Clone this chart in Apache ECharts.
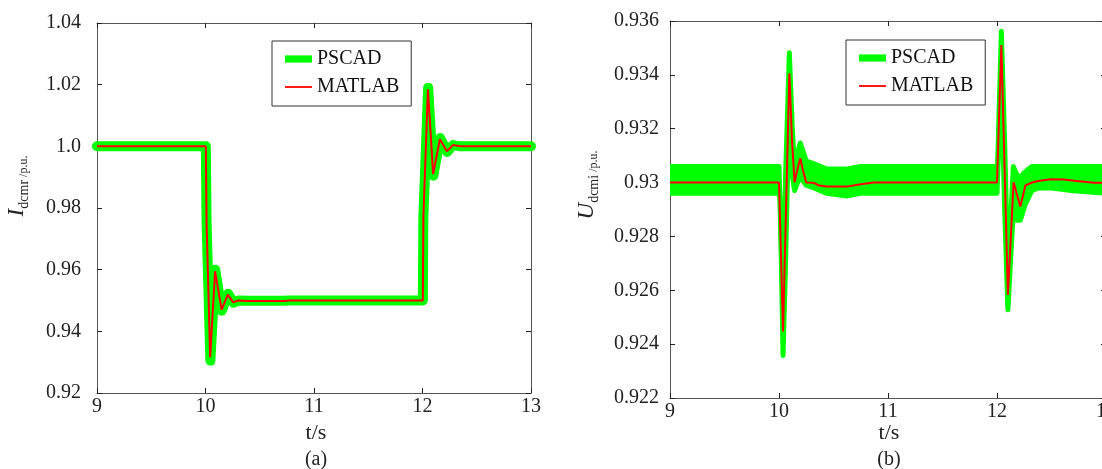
<!DOCTYPE html>
<html>
<head>
<meta charset="utf-8">
<script src="https://cdnjs.cloudflare.com/ajax/libs/echarts/6.0.0/echarts.min.js"></script>
<style>
  html, body { margin: 0; padding: 0; background: #fff; }
  #chart { width: 1102px; height: 469px; }
</style>
</head>
<body>
<div id="chart"></div>
<script>
// ── Valores ──────────────────────────────────────────────────────────────
const X_TICKS   = ['9', '10', '11', '12', '13'];
const Y_TICKS_A = ['0.92', '0.94', '0.96', '0.98', '1.0', '1.02', '1.04'];
const Y_TICKS_B = ['0.922', '0.924', '0.926', '0.928', '0.93', '0.932', '0.934', '0.936'];

// (a) corriente Idcmr
const tMatlabA = [9.0, 10.003, 10.010, 10.043, 10.088, 10.149, 10.205, 10.255, 10.30, 10.40, 10.74, 10.76,
                  12.003, 12.008, 12.05, 12.098, 12.16, 12.225, 12.28, 12.35, 13.0];
const iMatlabA = [1.0, 1.0, 0.975, 0.9315, 0.9595, 0.9470, 0.9519, 0.9494, 0.9500, 0.9498, 0.9498, 0.9500,
                  0.9500, 0.977, 1.0185, 0.9910, 1.0023, 0.9984, 1.0004, 1.0, 1.0];
const tPscadA  = [9.0, 10.003, 10.010, 10.045, 10.090, 10.150, 10.208, 10.258, 10.30, 10.40, 10.74, 10.76,
                  12.003, 12.008, 12.052, 12.10, 12.162, 12.228, 12.28, 12.35, 13.0];
const iPscadA  = [1.0, 1.0, 0.975, 0.9305, 0.9600, 0.9467, 0.9522, 0.9493, 0.9500, 0.9499, 0.9499, 0.9500,
                  0.9500, 0.977, 1.0190, 0.9905, 1.0027, 0.9982, 1.0004, 1.0, 1.0];

// (b) tensión Udcmi
const tMatlabB = [9.0, 10.0, 10.012, 10.037, 10.095, 10.12, 10.143, 10.17, 10.195, 10.22, 10.25, 10.32, 10.37,
                  10.44, 10.62, 10.75, 10.87, 12.0, 12.006, 12.04, 12.10, 12.152, 12.18, 12.214, 12.26, 12.32,
                  12.38, 12.49, 12.61, 12.73, 12.89, 13.0];
const uMatlabB = [0.93, 0.93, 0.93, 0.92447, 0.93406, 0.9315, 0.93001, 0.9305, 0.9309, 0.93045, 0.9300, 0.92999,
                  0.92989, 0.92985, 0.92985, 0.92994, 0.93, 0.93, 0.93, 0.93511, 0.92583, 0.93001, 0.9296,
                  0.92911, 0.92989, 0.9300, 0.93006, 0.93012, 0.93011, 0.93006, 0.92999, 0.930];
// PSCAD: envolvente del rizado (borde superior / inferior)
const tPscadB   = [9.0, 10.0, 10.012, 10.037, 10.06, 10.095, 10.12, 10.143, 10.17, 10.195, 10.25, 10.32, 10.44,
                   10.62, 10.75, 10.87, 12.0, 12.006, 12.04, 12.07, 12.10, 12.15, 12.18, 12.214, 12.26, 12.32,
                   12.38, 12.5, 12.7, 13.0];
const uPscadHiB = [0.9306, 0.9306, 0.9306, 0.9251, 0.9302, 0.93482, 0.9322, 0.9305, 0.9311, 0.93147, 0.9308, 0.9307,
                   0.9305, 0.9305, 0.9306, 0.9306, 0.9306, 0.9307, 0.93562, 0.9315, 0.9267, 0.9306, 0.9303,
                   0.9302, 0.9304, 0.9306, 0.9306, 0.9306, 0.9306, 0.9306];
const uPscadLoB = [0.9296, 0.9296, 0.9294, 0.92358, 0.9270, 0.9333, 0.9303, 0.9297, 0.9300, 0.9302, 0.9299, 0.9298,
                   0.9296, 0.9295, 0.9296, 0.9296, 0.9296, 0.9296, 0.9340, 0.9290, 0.92528, 0.9290, 0.9286,
                   0.9286, 0.9292, 0.9297, 0.9298, 0.9298, 0.9297, 0.9296];

// ── Estilo ────────────────────────────────────────────────────────────────
const SERIF = "'Liberation Serif', 'Times New Roman', serif";
const GREEN = '#00ff00';
const RED = '#ff0000';
const AXIS_COLOR = '#555';
const TEXT_COLOR = '#222';

const zip = (xs, ys) => xs.map((x, i) => [x, ys[i]]);
const tickLabel = (list) => (v) => list.find(s => Math.abs(Number(s) - v) < 1e-9) ?? '';

// tramos de la banda PSCAD (b): [t0, lo0, hi0, t1, lo1, hi1]
const bandB = tPscadB.slice(0, -1).map((t, i) => [
  t, uPscadLoB[i], uPscadHiB[i], tPscadB[i + 1], uPscadLoB[i + 1], uPscadHiB[i + 1],
]);

function xAxes(gridIndex) {
  const base = {
    type: 'value', gridIndex, min: 9, max: 13, interval: 1,
    axisLine: { show: true, onZero: false, lineStyle: { color: AXIS_COLOR, width: 1 } },
    axisTick: { show: true, inside: true, length: 5, lineStyle: { color: TEXT_COLOR } },
    splitLine: { show: false },
  };
  return [
    { ...base, position: 'bottom',
      axisLabel: { fontFamily: SERIF, fontSize: 20, color: TEXT_COLOR, margin: 4, formatter: tickLabel(X_TICKS) } },
    { ...base, position: 'top', axisLabel: { show: false } },
  ];
}

function yAxes(gridIndex, min, max, interval, labels, margin) {
  const base = {
    type: 'value', gridIndex, min, max, interval,
    axisLine: { show: true, onZero: false, lineStyle: { color: AXIS_COLOR, width: 1 } },
    axisTick: { show: true, inside: true, length: 5, lineStyle: { color: TEXT_COLOR } },
    splitLine: { show: false },
  };
  return [
    { ...base, position: 'left',
      axisLabel: { fontFamily: SERIF, fontSize: 20, color: TEXT_COLOR, margin, formatter: tickLabel(labels) } },
    { ...base, position: 'right', axisLabel: { show: false } },
  ];
}

function legendAt(left, top) {
  return {
    left, top, orient: 'vertical',
    padding: [8, 12, 9, 13], itemGap: 8, itemWidth: 27, itemHeight: 14,
    borderColor: '#333', borderWidth: 1, backgroundColor: '#fff',
    textStyle: { fontFamily: SERIF, fontSize: 20, color: '#111' },
    data: [
      { name: 'PSCAD', icon: 'path://M0,0H30V8H0Z', itemStyle: { color: GREEN } },
      { name: 'MATLAB', icon: 'path://M0,0H30V2H0Z', itemStyle: { color: RED } },
    ],
  };
}

function yName(x, y, main, sub) {
  return {
    type: 'text', x, y, rotation: Math.PI / 2,
    style: {
      text: `{m|${main}}{s|${sub}}{u| /p.u.}`,
      align: 'center', verticalAlign: 'middle',
      rich: {
        m: { fontFamily: SERIF, fontStyle: 'italic', fontSize: 23, fill: TEXT_COLOR, verticalAlign: 'bottom', padding: [0, 0, 3, 0] },
        s: { fontFamily: SERIF, fontSize: 14, fill: TEXT_COLOR, verticalAlign: 'bottom' },
        u: { fontFamily: SERIF, fontSize: 12, fill: TEXT_COLOR, verticalAlign: 'bottom', padding: [0, 0, 1, 0] },
      },
    },
  };
}

function plainText(x, y, text, size) {
  return {
    type: 'text', x, y,
    style: { text, fontFamily: SERIF, fontSize: size, fill: TEXT_COLOR, align: 'center', verticalAlign: 'middle' },
  };
}

const chart = echarts.init(document.getElementById('chart'), null, { renderer: 'canvas' });

chart.setOption({
  animation: false,
  backgroundColor: '#fff',
  grid: [
    { left: 97, top: 23, width: 434, height: 370, containLabel: false, outerBoundsMode: 'none' },
    { left: 670, top: 21, width: 436, height: 377, containLabel: false, outerBoundsMode: 'none' },
  ],
  xAxis: [...xAxes(0), ...xAxes(1)],
  yAxis: [
    ...yAxes(0, 0.92, 1.04, 0.02, Y_TICKS_A, 16),
    ...yAxes(1, 0.922, 0.936, 0.002, Y_TICKS_B, 11),
  ],
  legend: [legendAt(272, 41), legendAt(846, 40)],
  series: [
    {
      name: 'PSCAD', type: 'line', xAxisIndex: 0, yAxisIndex: 0,
      data: zip(tPscadA, iPscadA), symbol: 'none',
      lineStyle: { color: GREEN, width: 10, join: 'round', cap: 'round' },
      itemStyle: { color: GREEN },
    },
    {
      name: 'MATLAB', type: 'line', xAxisIndex: 0, yAxisIndex: 0,
      data: zip(tMatlabA, iMatlabA), symbol: 'none',
      lineStyle: { color: RED, width: 2 },
      itemStyle: { color: RED },
    },
    {
      name: 'PSCAD', type: 'custom', xAxisIndex: 2, yAxisIndex: 2, clip: true,
      data: bandB,
      encode: { x: [0, 3], y: [1, 2, 4, 5] },
      itemStyle: { color: GREEN },
      renderItem: (params, api) => ({
        type: 'polygon',
        shape: {
          points: [
            api.coord([api.value(0), api.value(1)]),
            api.coord([api.value(3), api.value(4)]),
            api.coord([api.value(3), api.value(5)]),
            api.coord([api.value(0), api.value(2)]),
          ],
        },
        style: { fill: GREEN, stroke: GREEN, lineWidth: 1 },
      }),
    },
    {
      name: 'PSCAD-lo', type: 'line', xAxisIndex: 2, yAxisIndex: 2,
      data: zip(tPscadB, uPscadLoB), symbol: 'none',
      lineStyle: { color: GREEN, width: 5, join: 'round' },
      itemStyle: { color: GREEN },
    },
    {
      name: 'PSCAD-hi', type: 'line', xAxisIndex: 2, yAxisIndex: 2,
      data: zip(tPscadB, uPscadHiB), symbol: 'none',
      lineStyle: { color: GREEN, width: 5, join: 'round' },
      itemStyle: { color: GREEN },
    },
    {
      name: 'MATLAB', type: 'line', xAxisIndex: 2, yAxisIndex: 2,
      data: zip(tMatlabB, uMatlabB), symbol: 'none',
      lineStyle: { color: RED, width: 2 },
      itemStyle: { color: RED },
    },
  ],
  graphic: [
    yName(18, 186, 'I', 'dcmr'),
    yName(588, 185, 'U', 'dcmi'),
    plainText(316, 433, 't/s', 22),
    plainText(316, 460, '(a)', 20),
    plainText(889, 433, 't/s', 22),
    plainText(889, 460, '(b)', 20),
  ],
});

window.addEventListener('resize', () => chart.resize());
</script>
</body>
</html>
